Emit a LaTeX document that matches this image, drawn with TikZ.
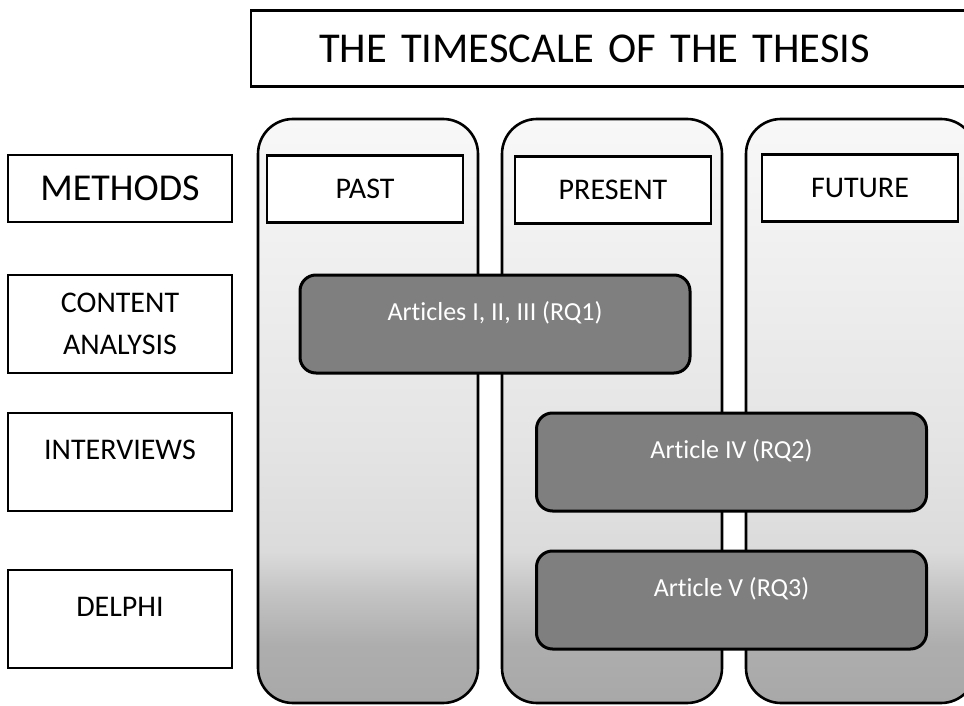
\documentclass[tikz,border=0pt]{standalone}
\usepackage{fontspec}
\setmainfont{Carlito}[Ligatures=NoCommon]
\usetikzlibrary{positioning}

\definecolor{shtop}{HTML}{F8F8F8}
\definecolor{shmid}{HTML}{E4E4E4}
\definecolor{shlow}{HTML}{DBDBDB}
\definecolor{shdrk}{HTML}{C4C4C4}
\definecolor{shbot}{HTML}{A8A8A8}
\definecolor{artfill}{HTML}{7F7F7F}
\pgfdeclareverticalshading{colfade}{100bp}{color(0bp)=(shbot); color(25bp)=(shbot);
  color(30bp)=(shbot!80!shdrk); color(34.5bp)=(shdrk); color(38bp)=(shlow);
  color(47bp)=(shmid); color(75bp)=(shtop); color(100bp)=(shtop)}

\tikzset{
  labfont/.style={font=\fontsize{30}{42}\selectfont},
  methbox/.style={draw, line width=2.6pt, fill=white, minimum width=224, labfont},
  hdrbox/.style={draw, line width=2.6pt, fill=white, minimum width=196, minimum height=67, labfont},
  colbox/.style={draw, line width=2.6pt, rounded corners=35pt, shade, shading=colfade,
    minimum height=584},
  artbox/.style={draw, line width=3pt, rounded corners=16pt, fill=artfill, text=white,
    minimum width=390, minimum height=98, font=\fontsize{26}{30}\selectfont,
    text height=17pt, text depth=24pt},
  uptext/.style={text height=19pt, text depth=24pt}
}

\begin{document}
\begin{tikzpicture}[x=1pt, y=-1pt]
\path[use as bounding box, clip] (0,0) rectangle (964,706);
% time columns
\node[colbox, minimum width=220] (pastcol) at (368,411) {};
\node[colbox, minimum width=220] (prescol) at (612,411) {};
\node[colbox, minimum width=230] (futcol) at (861,411) {};
\node[hdrbox] (past) at (365,189) {PAST};
\node[hdrbox] (present) at (613,190) {PRESENT};
\node[hdrbox] (future) at (860,188) {FUTURE};
% title
\node[draw, line width=2.2pt, fill=white, anchor=west, minimum height=76,
      inner xsep=68, text width=604, align=left, font=\fontsize{42.5}{50}\selectfont]
      (title) at (250,48.5) {THE TIMESCALE OF THE THESIS};
% methods column
\node[methbox, minimum height=67, font=\fontsize{38}{44}\selectfont] (methods) at (120,188.5) {METHODS};
\node[methbox, minimum height=98, align=center] (content) at (120,324) {CONTENT\\ANALYSIS};
\node[methbox, minimum height=98, uptext] (interviews) at (120,462) {INTERVIEWS};
\node[methbox, minimum height=98, uptext] (delphi) at (120,619) {DELPHI};
% articles
\node[artbox] (rqone) at (495,324) {Articles I, II, III (RQ1)};
\node[artbox] (rqtwo) at (731.5,462) {Article IV (RQ2)};
\node[artbox] (rqthree) at (731.5,600) {Article V (RQ3)};
\end{tikzpicture}
\end{document}
